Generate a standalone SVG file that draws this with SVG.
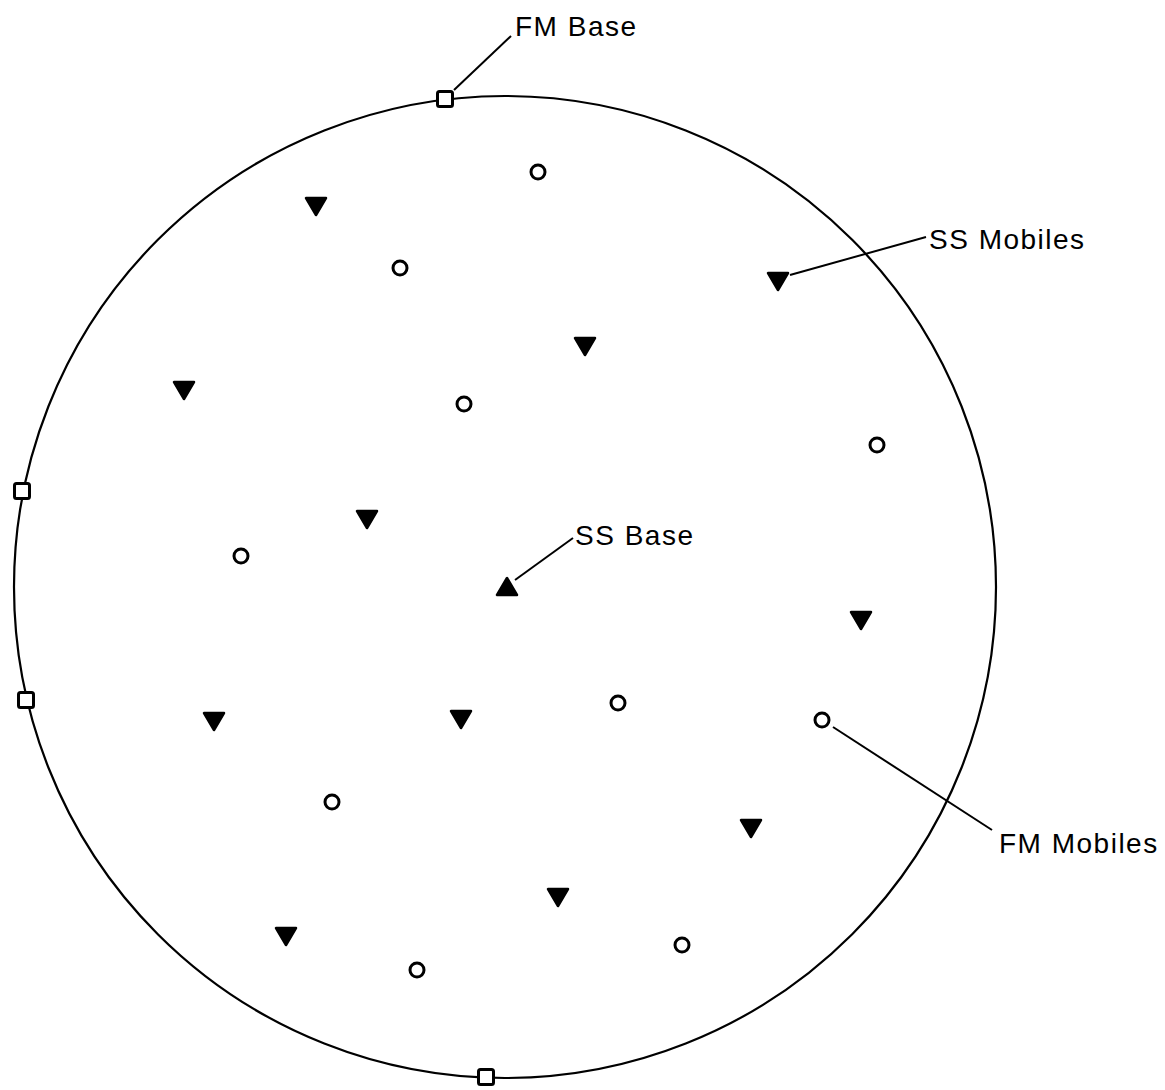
<svg xmlns="http://www.w3.org/2000/svg" width="1165" height="1090" viewBox="0 0 1165 1090">
<style>
.ring{fill:none;stroke:#000;stroke-width:2.2}
.sq{fill:#fff;stroke:#000;stroke-width:3}
.ci{fill:#fff;stroke:#000;stroke-width:3}
.tri{fill:#000;stroke:#000;stroke-width:2.5;stroke-linejoin:round}
.lead{stroke:#000;stroke-width:2;fill:none}
.lbl{font-family:"Liberation Sans",Arial,sans-serif;font-size:28px;fill:#000;letter-spacing:1.5px}
</style>
<defs>
<path id="dn" class="tri" d="M-10,-8 L10,-8 L0,9 Z"/>
<path id="up" class="tri" d="M-10,8 L10,8 L0,-9 Z"/>
<circle id="fm" class="ci" r="7"/>
<rect id="bs" class="sq" x="-7.5" y="-7.5" width="15" height="15" rx="2"/>
</defs>
<rect width="1165" height="1090" fill="#fff"/>
<g id="cell"><circle class="ring" cx="505" cy="587" r="491"/></g>
<g id="connectors">
<line class="lead" x1="454" y1="90" x2="511" y2="36"/>
<line class="lead" x1="790" y1="275" x2="926" y2="237"/>
<line class="lead" x1="515" y1="580" x2="573" y2="538"/>
<line class="lead" x1="833" y1="727" x2="992" y2="830"/>
</g>
<g id="fm-bases">
<use href="#bs" x="445" y="99"/>
<use href="#bs" x="22" y="491"/>
<use href="#bs" x="26" y="700"/>
<use href="#bs" x="486" y="1077"/>
</g>
<g id="ss-base"><use href="#up" x="507" y="587"/></g>
<g id="ss-mobiles">
<use href="#dn" x="316" y="206"/>
<use href="#dn" x="778" y="281"/>
<use href="#dn" x="585" y="346"/>
<use href="#dn" x="184" y="390"/>
<use href="#dn" x="367" y="519"/>
<use href="#dn" x="861" y="620"/>
<use href="#dn" x="214" y="721"/>
<use href="#dn" x="461" y="719"/>
<use href="#dn" x="751" y="828"/>
<use href="#dn" x="558" y="897"/>
<use href="#dn" x="286" y="936"/>
</g>
<g id="fm-mobiles">
<use href="#fm" x="538" y="172"/>
<use href="#fm" x="400" y="268"/>
<use href="#fm" x="464" y="404"/>
<use href="#fm" x="877" y="445"/>
<use href="#fm" x="241" y="556"/>
<use href="#fm" x="618" y="703"/>
<use href="#fm" x="822" y="720"/>
<use href="#fm" x="332" y="802"/>
<use href="#fm" x="682" y="945"/>
<use href="#fm" x="417" y="970"/>
</g>
<g id="labels">
<text class="lbl" x="515" y="36">FM Base</text>
<text class="lbl" x="929" y="249">SS Mobiles</text>
<text class="lbl" x="575" y="545">SS Base</text>
<text class="lbl" x="999" y="853">FM Mobiles</text>
</g>
</svg>
